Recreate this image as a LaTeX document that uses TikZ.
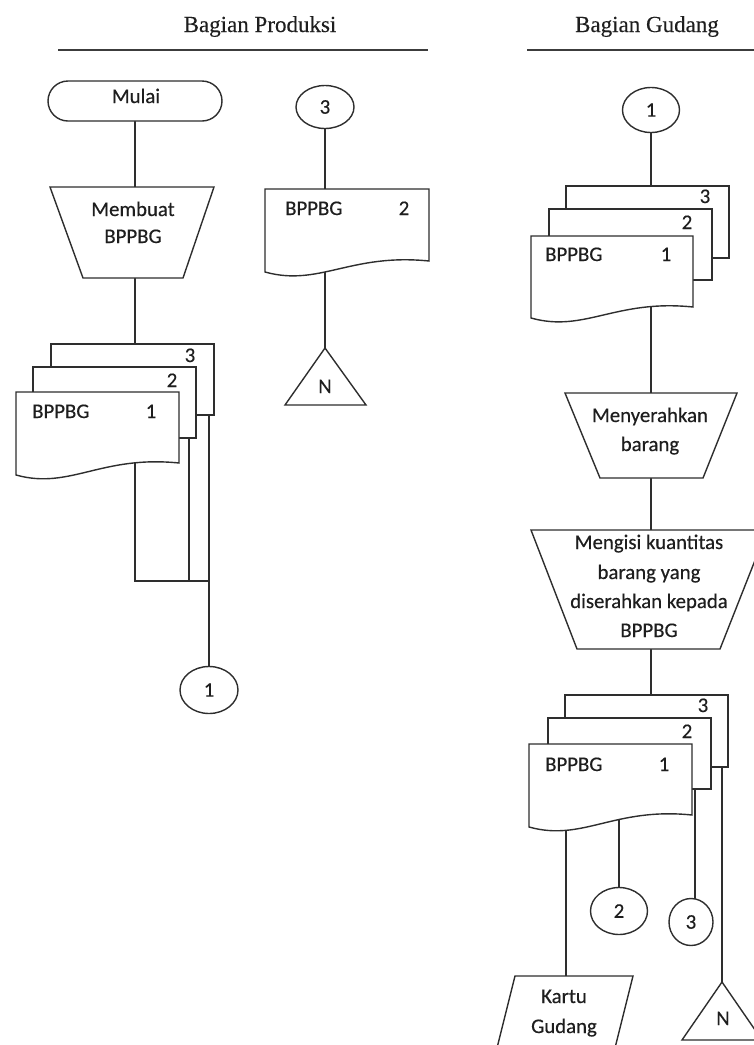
\documentclass[tikz,border=0pt]{standalone}
\usepackage{fontspec}
\setmainfont{Carlito}[FakeBold=0.35]
\newfontfamily\headfont{Liberation Serif}[FakeBold=0.25]
\usetikzlibrary{shapes.geometric}
\pgfdeclarelayer{edges}
\pgfsetlayers{edges,main}
\definecolor{ink}{HTML}{2E2E2E}
\definecolor{txt}{HTML}{1E1E1E}
\definecolor{rulec}{HTML}{3C3C3C}

\tikzset{
  ln/.style={draw=ink, line width=1.4pt},
  shp/.style={draw=ink, line width=1.4pt, fill=white, line join=miter},
  lbl/.style={anchor=base, inner sep=0pt, font=\fontsize{20.8}{24}\selectfont, text=txt},
  lbll/.style={lbl, anchor=base west},
  conn/.style={ellipse, draw=ink, line width=1.4pt, fill=white, inner sep=0pt,
    font=\fontsize{20.8}{24}\selectfont, text=txt},
  head/.style={anchor=base, inner sep=0pt, font=\headfont\fontsize{23}{26}\selectfont, text=txt},
  rulestyle/.style={draw=rulec, line width=2.6pt},
}

% back sheet of a document stack: plain rectangle
\newcommand\sheetback[4]{\path[shp] (#1,#2) rectangle (#3,#4);}
% front sheet: x0, top, x1, right bottom y, left bottom y (wavy bottom)
\newcommand\sheetfront[5]{\path[shp] (#1,#2) -- (#3,#2) -- (#3,#4)
  .. controls ({#1+0.52*(#3-#1)},{#4-8}) and ({#1+0.33*(#3-#1)},{#5+15}) .. (#1,#5) -- cycle;}

\begin{document}
\begin{tikzpicture}[x=1pt,y=-1pt]
\useasboundingbox (0,0) rectangle (754,1045);
\clip (0,0) rectangle (754,1045);

% ---------- lane headers ----------
\node[head] (hProd) at (260,32) {Bagian Produksi};
\node[head] (hGud) at (647,32) {Bagian Gudang};
\coordinate (rP1) at (58,50);  \coordinate (rP2) at (428,50);
\coordinate (rG1) at (527,50); \coordinate (rG2) at (754,50);
\draw[rulestyle] (rP1) -- (rP2);
\draw[rulestyle] (rG1) -- (rG2);

% ---------- Bagian Produksi ----------
\path[shp, rounded corners=20pt] (48,81) rectangle (222,121);
\node[lbl] (tMulai) at (136,103) {Mulai};
\coordinate (mulaiB) at (135,121);

\path[shp] (50,187) -- (214,187) -- (183,278) -- (83,278) -- cycle;
\node[lbl] (tMemb1) at (133,216) {Membuat};
\node[lbl] (tMemb2) at (133,243) {BPPBG};
\coordinate (membT) at (135,187);
\coordinate (membB) at (135,278);

\sheetback{51}{344}{214}{415}
\sheetback{33}{367}{196}{438}
\sheetfront{16}{392}{179}{463}{475}
\node[lbl] (tL3) at (190,362) {3};
\node[lbl] (tL2) at (172,387) {2};
\node[lbll] (tL1a) at (32,418) {BPPBG};
\node[lbl] (tL1b) at (151,418) {1};
\coordinate (stkLT) at (135,344);
\coordinate (dL1) at (135,455);
\coordinate (dL2) at (189,430);
\coordinate (dL3) at (209,410);
\coordinate (jL1) at (135,581);
\coordinate (jL2) at (189,581);
\coordinate (jL3) at (209,581);

\node[conn, minimum width=58pt, minimum height=47pt] (cL1) at (209,690) {1};

% copy 2 kept in file
\node[conn, minimum width=58pt, minimum height=43pt] (cM3) at (325,107) {3};
\sheetfront{265}{189}{429}{261}{272}
\node[lbll] (tM1) at (285,215) {BPPBG};
\node[lbl] (tM2) at (404,215) {2};
\coordinate (dMT) at (325,189);
\coordinate (dMB) at (325,262);
\path[shp] (325,348) -- (366,405) -- (285,405) -- cycle;
\node[lbl] (tNM) at (325,393) {N};
\coordinate (nMT) at (325,348);

% ---------- Bagian Gudang ----------
\node[conn, minimum width=57pt, minimum height=45pt] (cR1) at (651,110) {1};

\sheetback{566}{186}{729}{258}
\sheetback{549}{209}{712}{280}
\sheetfront{531}{236}{693}{307}{318}
\node[lbl] (tR3) at (705,203) {3};
\node[lbl] (tR2) at (687,229) {2};
\node[lbll] (tR1a) at (545,261) {BPPBG};
\node[lbl] (tR1b) at (666,261) {1};
\coordinate (stkRT) at (651,186);
\coordinate (dR1) at (651,300);

\path[shp] (565,393) -- (737,393) -- (703,478) -- (600,478) -- cycle;
\node[lbl] (tMen1) at (650,422) {Menyerahkan};
\node[lbl] (tMen2) at (650,451) {barang};
\coordinate (menT) at (651,393);
\coordinate (menB) at (651,478);

\path[shp] (531,530) -- (767,530) -- (720,649) -- (577,649) -- cycle;
\node[lbl] (tIsi1) at (649,549) {Mengisi kuantitas};
\node[lbl] (tIsi2) at (649,579) {barang yang};
\node[lbl] (tIsi3) at (649,608) {diserahkan kepada};
\node[lbl] (tIsi4) at (649,637) {BPPBG};
\coordinate (isiT) at (651,530);
\coordinate (isiB) at (651,649);

\sheetback{565}{695}{728}{767}
\sheetback{548}{718}{711}{789}
\sheetfront{529}{744}{692}{815}{827}
\node[lbl] (tS3) at (703,712) {3};
\node[lbl] (tS2) at (687,738) {2};
\node[lbll] (tS1a) at (545,771) {BPPBG};
\node[lbl] (tS1b) at (664,771) {1};
\coordinate (stkST) at (651,695);
\coordinate (dS1a) at (566,810);
\coordinate (dS1b) at (619,810);
\coordinate (dS2) at (695,780);
\coordinate (dS3) at (722,760);

\node[conn, minimum width=57pt, minimum height=47pt] (cR2) at (619,911) {2};
\node[conn, minimum width=44pt, minimum height=47pt] (cR3) at (691,922) {3};

\path[shp] (515,976) -- (633,976) -- (612,1060) -- (494,1060) -- cycle;
\node[lbl] (tK1) at (564,1003) {Kartu};
\node[lbl] (tK2) at (564,1033) {Gudang};
\coordinate (kartuT) at (566,976);

\path[shp] (722,982) -- (762,1040) -- (682,1040) -- cycle;
\node[lbl] (tNR) at (723,1025) {N};
\coordinate (nRT) at (722,982);

% ---------- connectors ----------
\begin{pgfonlayer}{edges}
  \draw[ln] (mulaiB) -- (membT);
  \draw[ln] (membB) -- (stkLT);
  \draw[ln] (dL1) -- (jL1) -- (jL3);
  \draw[ln] (dL2) -- (jL2);
  \draw[ln] (dL3) -- (dL3 |- cL1.north);
  \draw[ln] (cM3) -- (dMT);
  \draw[ln] (dMB) -- (nMT);
  \draw[ln] (cR1) -- (stkRT);
  \draw[ln] (dR1) -- (menT);
  \draw[ln] (menB) -- (isiT);
  \draw[ln] (isiB) -- (stkST);
  \draw[ln] (dS1a) -- (kartuT);
  \draw[ln] (dS1b) -- (dS1b |- cR2.center);
  \draw[ln] (dS2) -- (dS2 |- cR3.center);
  \draw[ln] (dS3) -- (nRT);
\end{pgfonlayer}
\end{tikzpicture}
\end{document}
